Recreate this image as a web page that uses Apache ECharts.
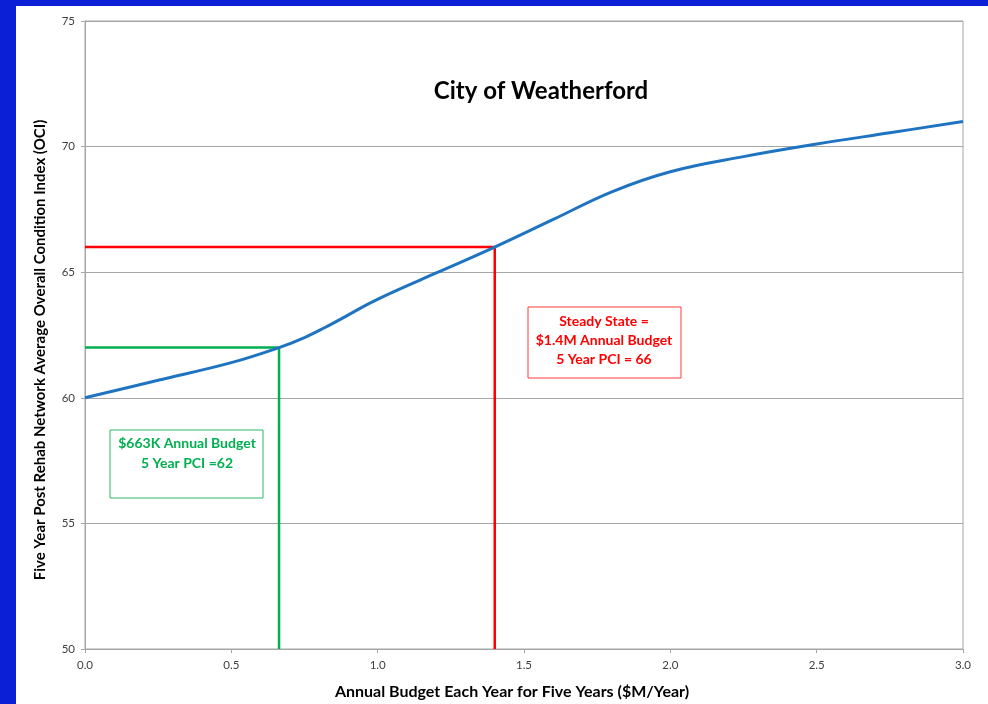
<!DOCTYPE html>
<html><head><meta charset="utf-8">
<script src="https://cdn.jsdelivr.net/npm/echarts@6/dist/echarts.min.js"></script>
<style>
html,body{margin:0;padding:0;width:988px;height:704px;overflow:hidden;background:#0a1fd6;}
#panel{position:absolute;left:16px;top:6px;right:0;bottom:0;background:#fff;}
#chart{position:absolute;left:0;top:0;width:988px;height:704px;}
</style></head>
<body><div id="panel"></div><div id="chart"></div>
<script>
const curveX = [0, 0.25, 0.5, 0.663, 0.75, 0.82, 0.9, 0.97, 1.05, 1.2, 1.4, 1.6, 1.8, 2.0, 2.25, 2.5, 2.75, 3.0];
const curveY = [60, 60.7, 61.4, 62, 62.4, 62.8, 63.3, 63.75, 64.2, 64.97, 66, 67.1, 68.2, 69, 69.6, 70.1, 70.55, 71];
const greenBudget = 0.663, greenPCI = 62;
const redBudget = 1.4, redPCI = 66;
const yMin = 50, yMax = 75, yStep = 5;
const xMin = 0, xMax = 3, xStep = 0.5;
const titleText = 'City of Weatherford';
const xName = 'Annual Budget Each Year for Five Years ($M/Year)';
const yName = 'Five Year Post Rehab Network Average Overall Condition Index (OCI)';
const greenText = '$663K Annual Budget\n5 Year PCI =62';
const redText = 'Steady State =\n$1.4M Annual Budget\n5 Year PCI = 66';

const font = 'Lato, "Open Sans", sans-serif';
const chart = echarts.init(document.getElementById('chart'));
chart.setOption({
  backgroundColor: 'transparent',
  animation: false,
  title: {text: titleText, left: 536, top: 74, textAlign: 'center',
    textStyle: {fontFamily: font, fontSize: 24, fontWeight: 'bold', color: '#000'}},
  grid: {left: 85, right: 25, top: 21, bottom: 55, show: true, borderColor: '#a6a6a6', borderWidth: 1},
  xAxis: {type: 'value', min: xMin, max: xMax, interval: xStep,
    axisLine: {lineStyle: {color: '#a6a6a6'}},
    axisTick: {show: true, length: 4, lineStyle: {color: '#a6a6a6'}},
    axisLabel: {formatter: v => v.toFixed(1), fontFamily: font, fontSize: 11.5, color: '#404040', margin: 10},
    splitLine: {show: false}},
  yAxis: {type: 'value', min: yMin, max: yMax, interval: yStep,
    axisLine: {show: true, lineStyle: {color: '#a6a6a6'}},
    axisTick: {show: true, length: 4, lineStyle: {color: '#a6a6a6'}},
    axisLabel: {fontFamily: font, fontSize: 11.5, color: '#404040', margin: 10},
    splitLine: {show: true, lineStyle: {color: '#a6a6a6', width: 1}}},
  series: [
    {type: 'line', data: curveX.map((x, i) => [x, curveY[i]]), smooth: 0.4, showSymbol: false,
      lineStyle: {color: '#1f74c2', width: 3}, z: 5},
    {type: 'line', data: [[xMin, greenPCI], [greenBudget, greenPCI], [greenBudget, yMin]], showSymbol: false,
      lineStyle: {color: '#00b050', width: 2.5}, z: 4},
    {type: 'line', data: [[xMin, redPCI], [redBudget, redPCI], [redBudget, yMin]], showSymbol: false,
      lineStyle: {color: '#ff0000', width: 2.5}, z: 4}
  ],
  graphic: [
    {type: 'text', x: 512, y: 692, style: {text: xName, align: 'center', verticalAlign: 'middle', font: 'bold 16px ' + font, fill: '#000'}},
    {type: 'text', x: 40, y: 350, rotation: Math.PI / 2, style: {text: yName, align: 'center', verticalAlign: 'middle', font: 'bold 15px ' + font, fill: '#000'}},
    {type: 'rect', shape: {x: 110, y: 430, width: 153, height: 68}, style: {fill: '#fff', stroke: '#2cb866', lineWidth: 1}},
    {type: 'text', x: 187, y: 433, style: {text: greenText, align: 'center', font: 'bold 14px ' + font, fill: '#00b050', lineHeight: 20}},
    {type: 'rect', shape: {x: 528, y: 307, width: 153, height: 71}, style: {fill: '#fff', stroke: '#ff3b3b', lineWidth: 1}},
    {type: 'text', x: 604, y: 312, style: {text: redText, align: 'center', font: 'bold 14px ' + font, fill: '#ff0000', lineHeight: 19}}
  ]
});
</script></body></html>
